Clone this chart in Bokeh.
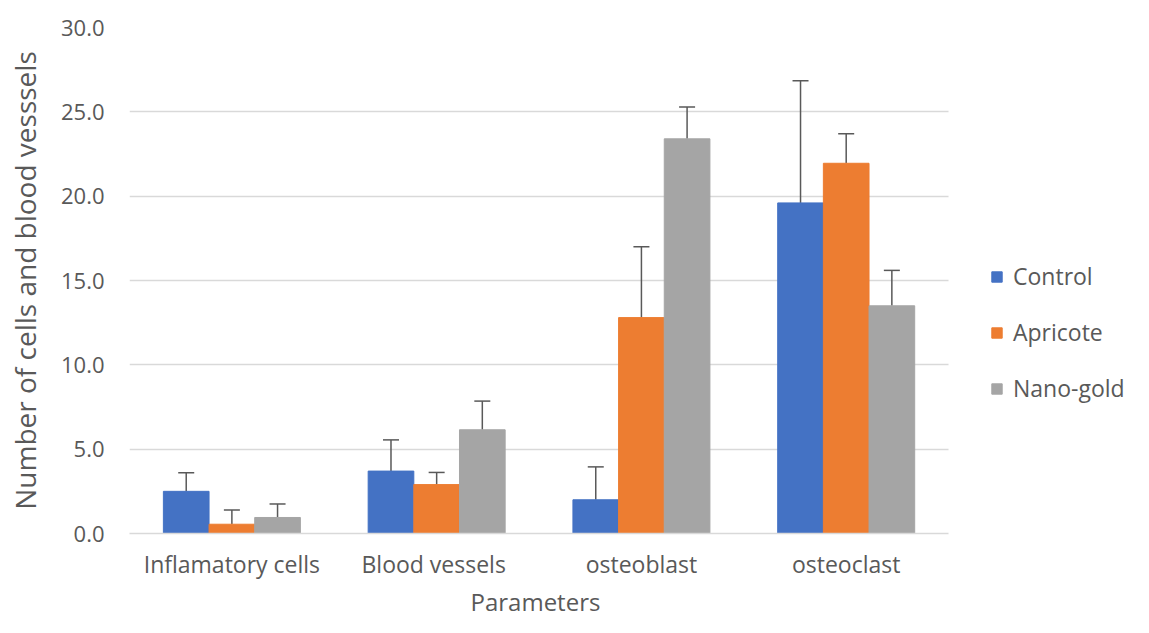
from bokeh.plotting import figure
from bokeh.models import (ColumnDataSource, Range1d, FixedTicker, Title,
                          NumeralTickFormatter, Whisker, TeeHead, Legend, LegendItem)
from bokeh.embed import file_html
from bokeh.resources import INLINE

categories = ["Inflamatory cells", "Blood  vessels", "osteoblast", "osteoclast"]
series = ["Control", "Apricote", "Nano-gold"]
control = [2.5, 3.7, 2.0, 19.6]
apricote = [0.55, 2.9, 12.8, 21.95]
nano_gold = [0.95, 6.15, 23.4, 13.5]
control_err = [1.1, 1.85, 1.95, 7.25]
apricote_err = [0.85, 0.72, 4.2, 1.75]
nano_gold_err = [0.8, 1.7, 1.88, 2.1]
y_ticks = [0, 5, 10, 15, 20, 25, 30]

colors = ["#4472C4", "#ED7D31", "#A5A5A5"]
values = [control, apricote, nano_gold]
errors = [control_err, apricote_err, nano_gold_err]

FONT = "Open Sans"
TXT = "#595959"

W, H = 1133, 617
LEFT, TOP, BOTTOM = 129, 27, 84
frame_w = W - LEFT - 5
n = len(categories)
px_per_cat = 203.75
x_end = frame_w / px_per_cat
xc = [i + 0.5 for i in range(n)]

p = figure(width=W, height=H, x_range=Range1d(0, x_end), y_range=Range1d(0, 30),
           output_backend="svg", toolbar_location=None,
           min_border_left=LEFT, min_border_right=0, min_border_top=TOP,
           min_border_bottom=BOTTOM)
p.outline_line_color = None

bw = 0.223
offsets = [-bw, 0.0, bw]
items = []
for name, vals, errs, col, off in zip(series, values, errors, colors, offsets):
    xs = [x + off for x in xc]
    src = ColumnDataSource(dict(x=xs, val=vals, up=[v + e for v, e in zip(vals, errs)]))
    r = p.vbar(x="x", top="val", bottom=0, width=bw, source=src,
               fill_color=col, line_color=col)
    w = Whisker(source=src, base="x", lower="val", upper="up",
                dimension="height", line_color="#595959", line_width=1.5,
                upper_head=TeeHead(size=16, line_color="#595959", line_width=1.5),
                lower_head=None)
    p.add_layout(w)
    items.append(LegendItem(label=name, renderers=[r]))

legend = Legend(items=items, location=(861, 129), orientation="vertical",
                label_text_font=FONT, label_text_font_size="23px", label_text_color=TXT,
                glyph_width=13, glyph_height=13, label_standoff=10, spacing=24,
                padding=0, margin=0, border_line_color=None, background_fill_alpha=0)
p.add_layout(legend, "center")

p.xgrid.grid_line_color = None
p.ygrid.grid_line_color = "#D9D9D9"
p.ygrid.grid_line_width = 1.3
if "cross_bounds" in p.ygrid[0].properties():
    p.ygrid.cross_bounds = (0, n)
else:
    p.ygrid.grid_line_color = None
    p.segment(x0=[0] * len(y_ticks), x1=[n] * len(y_ticks), y0=y_ticks, y1=y_ticks,
              line_color="#D9D9D9", line_width=1.3, level="underlay")

p.yaxis.ticker = FixedTicker(ticks=y_ticks)
p.yaxis.formatter = NumeralTickFormatter(format="0.0")
p.yaxis.axis_line_color = None
p.yaxis.major_tick_line_color = None
p.yaxis.minor_tick_line_color = None
p.yaxis.major_tick_out = 0
p.yaxis.major_tick_in = 0
p.yaxis.minor_tick_out = 0
p.yaxis.major_label_text_font = FONT
p.yaxis.major_label_text_font_size = "22px"
p.yaxis.major_label_text_color = TXT
p.yaxis.major_label_standoff = 25
p.yaxis.axis_label = "Number of cells and blood vesssels"
p.yaxis.axis_label_text_font = FONT
p.yaxis.axis_label_text_font_size = "28px"
p.yaxis.axis_label_text_font_style = "normal"
p.yaxis.axis_label_text_color = TXT
p.yaxis.axis_label_standoff = 14

p.xaxis.bounds = (0, n)
p.xaxis.ticker = FixedTicker(ticks=xc)
p.xaxis.major_label_overrides = {x: c for x, c in zip(xc, categories)}
p.xaxis.axis_line_color = "#D9D9D9"
p.xaxis.axis_line_width = 1.3
p.xaxis.major_tick_line_color = None
p.xaxis.minor_tick_line_color = None
p.xaxis.major_tick_out = 0
p.xaxis.major_tick_in = 0
p.xaxis.minor_tick_out = 0
p.xaxis.major_label_text_font = FONT
p.xaxis.major_label_text_font_size = "23px"
p.xaxis.major_label_text_color = TXT
p.xaxis.major_label_standoff = 14

p.add_layout(Title(text="Parameters", align="left", offset=341, standoff=0,
                   text_font=FONT, text_font_size="24px", text_font_style="normal",
                   text_color=TXT), "below")

open("out.html", "w").write(file_html(p, INLINE))
